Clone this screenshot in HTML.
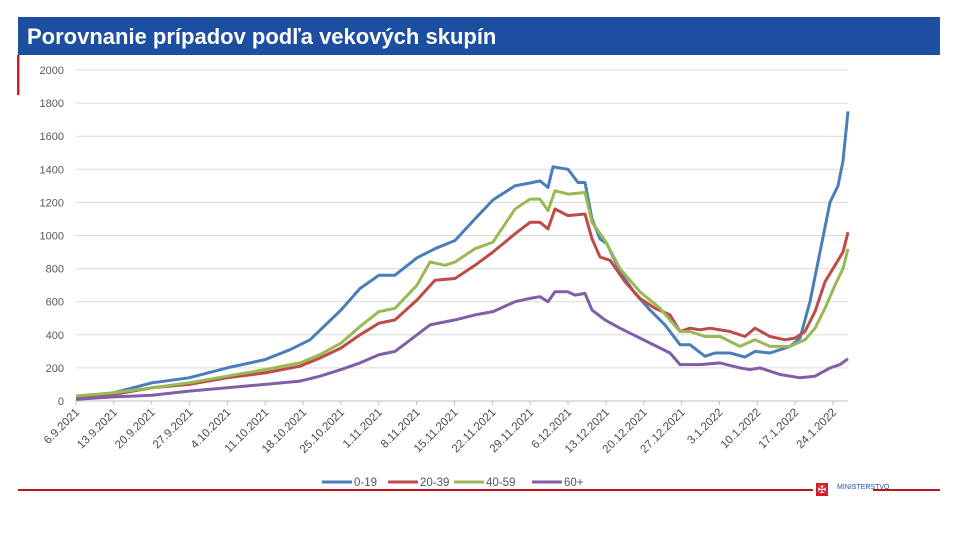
<!DOCTYPE html>
<html><head><meta charset="utf-8"><style>
html,body{margin:0;padding:0;background:#fff;width:960px;height:535px;overflow:hidden}
svg{display:block}
text{font-family:"Liberation Sans",sans-serif}
</style></head><body>
<svg id="s" width="960" height="535" xmlns="http://www.w3.org/2000/svg">
<rect x="18" y="17" width="922" height="38" fill="#1c4fa0"/>
<text x="27" y="44" font-size="22" font-weight="bold" fill="#fff">Porovnanie prípadov podľa vekových skupín</text>
<rect x="17" y="55" width="2.5" height="40" fill="#c8202a"/>
<g id="grid"></g>
<g id="lines" fill="none" stroke-width="3" stroke-linejoin="round"></g>
<g id="leg" font-size="11.5" fill="#555"></g>
<rect x="18" y="489" width="795" height="2" fill="#c0141c"/>
<rect x="873" y="489" width="67" height="2" fill="#c0141c"/>
<rect x="816" y="483" width="12" height="13" fill="#d0202a"/>
<text x="822" y="493" font-size="10" fill="#fff" text-anchor="middle">✠</text>
<text x="837" y="489" font-size="7" fill="#1c4fa0">MINISTERSTVO</text>
</svg>
<script>
var s=document.getElementById('s'),NS='http://www.w3.org/2000/svg';
function el(t,a,p,txt){var e=document.createElementNS(NS,t);for(var k in a)e.setAttribute(k,a[k]);if(txt)e.textContent=txt;document.getElementById(p).appendChild(e);return e;}
function Y(v){return 401-v*0.1655;}
for(var i=0;i<=10;i++){var y=Y(i*200);el('line',{x1:76,x2:848,y1:y,y2:y,stroke:i?'#d9d9d9':'#bfbfbf','stroke-width':1},'grid');
el('text',{x:64,y:y+4,'font-size':11,fill:'#595959','text-anchor':'end'},'grid',String(i*200));}
var labs=['6.9.2021','13.9.2021','20.9.2021','27.9.2021','4.10.2021','11.10.2021','18.10.2021','25.10.2021','1.11.2021','8.11.2021','15.11.2021','22.11.2021','29.11.2021','6.12.2021','13.12.2021','20.12.2021','27.12.2021','3.1.2022','10.1.2022','17.1.2022','24.1.2022'];
labs.forEach(function(l,i){var x=76+i*37.85;el('line',{x1:x,x2:x,y1:401,y2:405,stroke:'#bfbfbf'},'grid');
el('text',{x:x+4,y:413,'font-size':11.5,fill:'#4a4a4a','text-anchor':'end',transform:'rotate(-45 '+(x+4)+' 413)'},'grid',l);});
var S={
'#4a7ebb':[[76,20],[114,50],[152,110],[189,140],[227,200],[265,250],[290,310],[310,370],[341,550],[360,680],[379,760],[395,760],[417,865],[435,920],[455,970],[475,1100],[493,1215],[515,1300],[530,1317],[540,1330],[548,1290],[553,1415],[568,1400],[578,1320],[585,1320],[592,1100],[600,980],[607,950],[620,780],[635,650],[650,550],[665,460],[680,340],[690,340],[705,270],[715,290],[730,290],[745,265],[755,300],[770,290],[790,330],[800,380],[810,600],[820,900],[830,1200],[838,1300],[843,1450],[848,1750]],
'#be4b48':[[76,20],[114,40],[152,80],[189,100],[227,140],[265,170],[300,210],[320,260],[341,320],[360,400],[379,470],[395,490],[417,610],[435,730],[455,740],[475,820],[493,900],[515,1010],[530,1080],[540,1080],[548,1040],[555,1160],[568,1120],[585,1130],[592,980],[600,870],[610,850],[625,720],[640,620],[655,560],[670,520],[680,420],[690,440],[700,430],[710,440],[730,420],[745,390],[755,440],[770,390],[785,370],[795,380],[805,420],[815,540],[825,720],[835,820],[843,900],[848,1020]],
'#98b954':[[76,30],[114,50],[152,80],[189,110],[227,150],[265,190],[300,230],[320,280],[341,350],[360,450],[379,540],[395,560],[417,700],[430,840],[445,820],[455,840],[475,920],[493,960],[515,1160],[530,1220],[540,1220],[548,1150],[555,1270],[568,1250],[585,1260],[592,1080],[605,970],[620,800],[640,660],[660,560],[680,420],[690,420],[705,390],[720,390],[740,330],[755,370],[770,330],[790,330],[805,370],[815,440],[825,560],[835,700],[843,800],[848,920]],
'#7f5fa5':[[76,10],[114,25],[152,35],[189,60],[227,80],[265,100],[300,120],[320,150],[341,190],[360,230],[379,280],[395,300],[417,400],[430,460],[455,490],[475,520],[493,540],[515,600],[530,620],[540,630],[548,600],[555,660],[568,660],[575,640],[585,650],[592,550],[605,490],[620,440],[640,380],[660,320],[670,290],[680,220],[700,220],[720,230],[740,200],[750,190],[760,200],[780,160],[800,140],[815,150],[830,200],[840,220],[848,255]]};
for(var c in S){el('polyline',{stroke:c,points:S[c].map(function(p){return p[0]+','+Y(p[1]).toFixed(1)}).join(' ')},'lines');}
var L=[['#4a7ebb','0-19',322],['#be4b48','20-39',388],['#98b954','40-59',454],['#7f5fa5','60+',532]];
L.forEach(function(l){el('line',{x1:l[2],x2:l[2]+30,y1:482,y2:482,stroke:l[0],'stroke-width':3},'leg');el('text',{x:l[2]+32,y:486},'leg',l[1]);});
</script>
</body></html>
